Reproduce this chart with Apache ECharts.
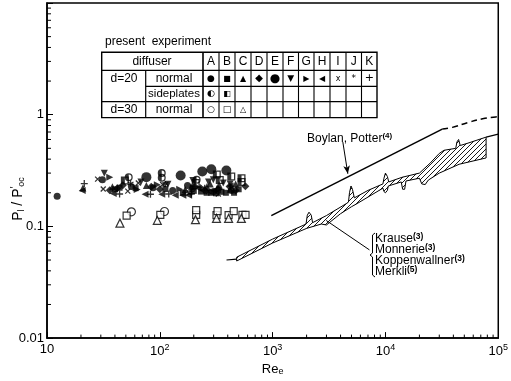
<!DOCTYPE html>
<html><head><meta charset="utf-8">
<script src="https://cdn.jsdelivr.net/npm/echarts@6/dist/echarts.min.js"></script>
<style>html,body{margin:0;padding:0;background:#fff}#c{width:511px;height:381px}</style>
</head><body><div id="c"></div>
<script>
// ---------- axis tick labels ----------
const xTickLabels = ['10', '10{s|2}', '10{s|3}', '10{s|4}', '10{s|5}'];
const yTickLabels = ['0.01', '0.1', '1', ''];
const xMinorTicks = [20,30,40,50,60,70,80,90,200,300,400,500,600,700,800,900,2000,3000,4000,5000,6000,7000,8000,9000,20000,30000,40000,50000,60000,70000,80000,90000];
const yMinorTicks = [0.02,0.03,0.04,0.05,0.06,0.07,0.08,0.09,0.2,0.3,0.4,0.5,0.6,0.7,0.8,0.9,2,3,4,5,6,7,8,9];

// ---------- present experiment (Re_e, P_l/P'_oc) ----------
const A_normal = [[12.3,0.186],[31,0.262],[56,0.228],[87,0.222],[130,0.21],[176,0.232],[300,0.205],[430,0.21]];
const B_normal = [[40,0.215],[44,0.222],[61,0.22],[112,0.216],[160,0.2],[200,0.208],[232,0.205],[260,0.2],[285,0.2],[315,0.198],[352,0.204],[385,0.2],[455,0.2],[500,0.215]];
const C_normal = [[20.8,0.221],[38,0.226],[76,0.232],[168,0.214],[190,0.225],[262,0.228],[280,0.24],[335,0.236],[420,0.215],[470,0.24]];
const D_normal = [[36,0.211],[42,0.22],[47,0.233],[84,0.226],[100,0.215],[205,0.226],[250,0.21],[330,0.215],[415,0.228],[470,0.21],[573,0.229]];
const E_normal = [[76,0.276],[153,0.286],[238,0.31],[286,0.325],[389,0.316]];
const F_normal = [[32.2,0.299],[68,0.25],[118,0.238],[196,0.258],[270,0.25],[298,0.262],[365,0.245],[420,0.24]];
const G_normal = [[36,0.276],[63,0.214],[95,0.236],[150,0.215],[198,0.222],[340,0.216]];
const H_normal = [[20.5,0.21],[38.6,0.197],[74,0.194],[104,0.194],[137,0.19],[160,0.19],[180,0.19],[220,0.22],[300,0.21],[420,0.23]];
const I_normal = [[28.1,0.265],[31.5,0.216],[52,0.207],[64.5,0.245],[106,0.237],[182,0.2],[270,0.205],[330,0.195]];
const J_normal = [[55,0.242],[112,0.24],[192,0.202],[250,0.222]];
const K_normal = [[21.4,0.242],[44,0.195],[82.6,0.194],[120,0.195],[190,0.195],[228,0.222]];
const A_side = [[53,0.276],[104,0.3],[104,0.272],[212,0.262]];
const B_side = [[49,0.258],[208,0.245],[320,0.292],[340,0.26],[430,0.28],[530,0.27],[530,0.25]];
const A_d30 = [[56,0.135],[110,0.136]];
const B_d30 = [[50.8,0.125],[101,0.127],[210,0.127],[210,0.14],[318,0.126],[325,0.137],[407,0.126],[452,0.137],[540,0.127],[575,0.127]];
const C_d30 = [[44.3,0.107],[95,0.113],[207,0.115],[318,0.118],[407,0.118],[528,0.118]];

// ---------- Boylan, Potter ----------
const boylanSolid = [[973,0.125],[31900,0.743]];
const boylanDashed = [[31900,0.743],[39200,0.77],[53600,0.85],[72700,0.92],[95000,0.955],[100000,0.96]];

// ---------- Krause / Monnerie / Koppenwallner / Merkli band ----------
const bandUpper = [[480,0.053],[1000,0.077],[1900,0.103],[1980,0.106],[2030,0.126],[2100,0.134],[2200,0.126],[2260,0.108],[3000,0.125],[4500,0.16],[4700,0.165],[4800,0.2],[4950,0.23],[5100,0.215],[5300,0.18],[7000,0.21],[9500,0.24],[9700,0.27],[10000,0.3],[10400,0.28],[10700,0.25],[14000,0.275],[20000,0.3],[25000,0.37],[30000,0.45],[33000,0.48],[42000,0.5],[43000,0.57],[44500,0.6],[46000,0.53],[55000,0.56],[78000,0.63]];
const bandLower = [[480,0.049],[1000,0.071],[2000,0.096],[2700,0.105],[3000,0.103],[4000,0.13],[5000,0.15],[5600,0.16],[9500,0.22],[9700,0.205],[10000,0.2],[10400,0.21],[10600,0.23],[13800,0.25],[14200,0.215],[14800,0.215],[15200,0.255],[20000,0.27],[21000,0.24],[22500,0.237],[24000,0.26],[30000,0.3],[45000,0.36],[78000,0.41]];
const bandTail = [[390,0.05],[480,0.051]];
const bandTop = [[78000,0.63],[100000,0.67]];
const boylanArrow = [[4190,0.569],[4640,0.296]];
const bandLeader = [[2985,0.113],[7215,0.0616]];

// ---------- table ----------
const tableLetters = ['A','B','C','D','E','F','G','H','I','J','K'];

const chart = echarts.init(document.getElementById('c'), null, {renderer:'canvas'});
const FONT = 'Liberation Sans, Arial, sans-serif';

// hatch pattern
const pc = document.createElement('canvas');
pc.width = 5; pc.height = 5;
const pctx = pc.getContext('2d');
pctx.fillStyle = '#fff'; pctx.fillRect(0,0,5,5);
pctx.strokeStyle = '#000'; pctx.lineWidth = 0.9;
pctx.beginPath(); pctx.moveTo(0,5); pctx.lineTo(5,0); pctx.moveTo(-1,1); pctx.lineTo(1,-1); pctx.moveTo(4,6); pctx.lineTo(6,4); pctx.stroke();
const hatch = {image: pc, repeat: 'repeat'};

const P_HALFCIRC = 'path://M5 0A5 5 0 1 1 5 10A5 5 0 1 1 5 0ZM5 1.6A3.4 3.4 0 1 0 5 8.4A3.4 3.4 0 1 0 5 1.6ZM5 1.6A3.4 3.4 0 0 0 5 8.4Z';
const P_HALFSQ = 'path://M0 0H10V10H0ZM1.6 1.6V8.4H8.4V1.6ZM1.6 1.6V8.4H5V1.6Z';
const P_DOWN = 'path://M0 0H10L5 9Z';
const P_RIGHT = 'path://M0 0L9 5L0 10Z';
const P_LEFT = 'path://M9 0L0 5L9 10Z';
const P_X = 'path://M0 0L10 10M10 0L0 10';
const P_STAR = 'path://M5 0V10M0.7 2.5L9.3 7.5M9.3 2.5L0.7 7.5';
const P_PLUS = 'path://M5 0V10M0 5H10';

const FILL = {color:'#000'};
const OPEN = {color:'#fff', borderColor:'#000', borderWidth:1.2};
const STROKE = {color:'none', borderColor:'#000', borderWidth:1.3};

const scatterDefs = [
  [A_normal,'circle',7,FILL],[B_normal,'rect',6,FILL],[C_normal,'triangle',7,FILL],
  [D_normal,'diamond',8,FILL],[E_normal,'circle',10,FILL],[F_normal,P_DOWN,7,FILL],
  [G_normal,P_RIGHT,7,FILL],[H_normal,P_LEFT,7,FILL],[I_normal,P_X,5,STROKE],
  [J_normal,P_STAR,6,STROKE],[K_normal,P_PLUS,7,STROKE],
  [A_side,P_HALFCIRC,8,FILL],[B_side,P_HALFSQ,8,FILL],
  [A_d30,'circle',8,OPEN],[B_d30,'rect',7,OPEN],[C_d30,'triangle',8,OPEN]
];

const series = [];
// band
series.push({
  type:'custom', data:[[480,0.05]], silent:true, z:2, clip:false,
  renderItem:(params, api) => {
    const pts = bandUpper.map(d => api.coord(d)).concat(bandLower.slice().reverse().map(d => api.coord(d)));
    return {type:'polygon', shape:{points:pts}, style:{fill:hatch, stroke:'#000', lineWidth:1}};
  }
});
series.push({type:'line', data:bandTail, symbol:'none', silent:true, lineStyle:{color:'#000', width:1.2}, z:2,
  markLine:{silent:true, symbol:['none','none'], label:{show:false}, lineStyle:{color:'#000', width:1, type:'solid'},
    data:[[{coord:bandLeader[0]},{coord:bandLeader[1]}]]}});
series.push({type:'line', data:bandTop, symbol:'none', silent:true, lineStyle:{color:'#000', width:1.2}, z:2});
series.push({type:'line', data:boylanSolid, symbol:'none', silent:true, lineStyle:{color:'#000', width:1.5}, z:2,
  markLine:{silent:true, symbol:['none','arrow'], symbolSize:[5,8], label:{show:false}, lineStyle:{color:'#000', width:1, type:'solid'},
    data:[[{coord:boylanArrow[0]},{coord:boylanArrow[1]}]]}});
series.push({type:'line', data:boylanDashed, symbol:'none', smooth:true, silent:true, lineStyle:{color:'#000', width:1.5, type:[6,4]}, z:2});

scatterDefs.forEach(([data, sym, size, st]) => {
  series.push({type:'scatter', data, symbol:sym, symbolSize:size, itemStyle:st, silent:true, z:4});
});

// minor ticks
series.push({type:'custom', silent:true, z:5, clip:false, data:xMinorTicks.map(v => [v, 0.01]),
  renderItem:(p, api) => { const c = api.coord([api.value(0), api.value(1)]);
    return {type:'line', shape:{x1:c[0], y1:c[1], x2:c[0], y2:c[1]-3.5}, style:{stroke:'#000', lineWidth:1}}; }});
series.push({type:'custom', silent:true, z:5, clip:false, data:yMinorTicks.map(v => [10, v]),
  renderItem:(p, api) => { const c = api.coord([api.value(0), api.value(1)]);
    return {type:'line', shape:{x1:c[0], y1:c[1], x2:c[0]+4, y2:c[1]}, style:{stroke:'#000', lineWidth:1}}; }});

// table graphics
const g = [];
const TL = 101.7, TR = 377, TT = 52.3, TB = 117.6;
const colX = [203, 219, 235, 251, 267, 283, 298.5, 314, 330, 346, 361.5, 377];
const ln = (x1,y1,x2,y2,w) => g.push({type:'line', shape:{x1,y1,x2,y2}, style:{stroke:'#000', lineWidth:w||1.2}, silent:true});
const tx = (x,y,text,opt) => g.push({type:'text', x, y, silent:true, style:Object.assign({text, font:'12px '+FONT, fill:'#000', align:'center', verticalAlign:'middle'}, opt||{})});
g.push({type:'rect', shape:{x:TL, y:TT, width:TR-TL, height:TB-TT}, style:{fill:'#fff', stroke:'#000', lineWidth:1.4}, silent:true});
ln(TL, 70.3, TR, 70.3); ln(TL, 101.7, TR, 101.7); ln(145.7, 86.3, TR, 86.3);
ln(145.7, 70.3, 145.7, TB);
colX.slice(0, -1).forEach((x, i) => ln(x, TT, x, TB, i === 0 ? 1.6 : 1.1));
tx(105, 42, 'present  experiment', {align:'left', font:'12px '+FONT});
tx(152, 61.5, 'diffuser');
tableLetters.forEach((L, i) => tx((colX[i] + colX[i+1]) / 2, 61.5, L));
tx(124, 78.5, 'd=20'); tx(174, 78.5, 'normal');
tx(174, 93.8, 'sideplates', {font:'11.5px '+FONT});
tx(124, 109.8, 'd=30'); tx(174, 109.8, 'normal');
const SF = 'DejaVu Sans, sans-serif';
const rowNormal = [['●',9],['■',8],['▲',8],['◆',10],['●',12],['▼',9],['▶',8],['◀',8],['x',8],['*',9],['+',11]];
rowNormal.forEach(([s, fs], i) => tx((colX[i] + colX[i+1]) / 2, 78.5, s, {font: fs+'px '+SF}));
[['◐',9],['◧',8]].forEach(([s, fs], i) => tx((colX[i] + colX[i+1]) / 2, 94, s, {font: fs+'px '+SF}));
[['○',9],['□',9],['△',8]].forEach(([s, fs], i) => tx((colX[i] + colX[i+1]) / 2, 109.8, s, {font: fs+'px '+SF}));

// annotations
g.push({type:'text', x:307, y:139, silent:true, style:{text:'Boylan, Potter{s|(4)}', font:'12px '+FONT, fill:'#000', verticalAlign:'middle',
  rich:{s:{fontSize:8, fontWeight:'bold', verticalAlign:'top', padding:[0,0,6,0], fontFamily:FONT}}}});
['Krause', 'Monnerie', 'Koppenwallner', 'Merkli'].forEach((t, i) => {
  const ref = i === 3 ? '(5)' : '(3)';
  g.push({type:'text', x:375, y:239 + i*11, silent:true, style:{text:t + '{s|' + ref + '}', font:'12px '+FONT, fill:'#000', verticalAlign:'middle',
    rich:{s:{fontSize:8.5, fontWeight:'bold', verticalAlign:'top', padding:[0,0,5,0], fontFamily:FONT}}}});
});
g.push({type:'polyline', shape:{points:[[375,233],[372.5,235],[372.5,253],[370,255],[372.5,257],[372.5,275],[375,277]]}, style:{stroke:'#000', fill:'none', lineWidth:1}, silent:true});

// axis titles
g.push({type:'text', x:18, y:199, rotation:Math.PI/2, silent:true, style:{text:'P{s|l} / P{p|\u2032}{s|oc}', font:'14px '+FONT, fill:'#000', align:'center', verticalAlign:'middle',
  rich:{s:{fontSize:9, verticalAlign:'bottom', padding:[5,0,0,0], fontFamily:FONT}, p:{fontSize:10, verticalAlign:'top', padding:[0,0,6,0], fontFamily:FONT}}}});

chart.setOption({
  animation:false,
  backgroundColor:'#fff',
  grid:{left:47, right:12, top:3, bottom:35, show:true, borderColor:'#000', borderWidth:1.5},
  xAxis:{type:'log', logBase:10, min:10, max:100000, splitNumber:4,
    axisLine:{show:true, lineStyle:{color:'#000', width:1.5}},
    axisTick:{show:true, inside:true, length:6, lineStyle:{color:'#000', width:1}},
    splitLine:{show:false}, minorTick:{show:false},
    axisLabel:{color:'#000', fontSize:13, fontFamily:FONT, margin:5,
      formatter:v => xTickLabels[Math.round(Math.log10(v)) - 1] || '',
      rich:{s:{fontSize:9, verticalAlign:'top', padding:[0,0,8,0], fontFamily:FONT}}},
    name:'Re{s|e}', nameLocation:'middle', nameGap:22,
    nameTextStyle:{color:'#000', fontSize:13, fontFamily:FONT, rich:{s:{fontSize:9, verticalAlign:'bottom', padding:[4,0,0,0], fontFamily:FONT}}}
  },
  yAxis:{type:'log', logBase:10, min:0.01, max:10, splitNumber:3,
    axisLine:{show:true, lineStyle:{color:'#000', width:1.5}},
    axisTick:{show:true, inside:true, length:6, lineStyle:{color:'#000', width:1}},
    splitLine:{show:false}, minorTick:{show:false},
    axisLabel:{color:'#000', fontSize:13, fontFamily:FONT, margin:3,
      formatter:v => yTickLabels[Math.round(Math.log10(v)) + 2] || ''}
  },
  graphic:g,
  series
});
</script></body></html>
